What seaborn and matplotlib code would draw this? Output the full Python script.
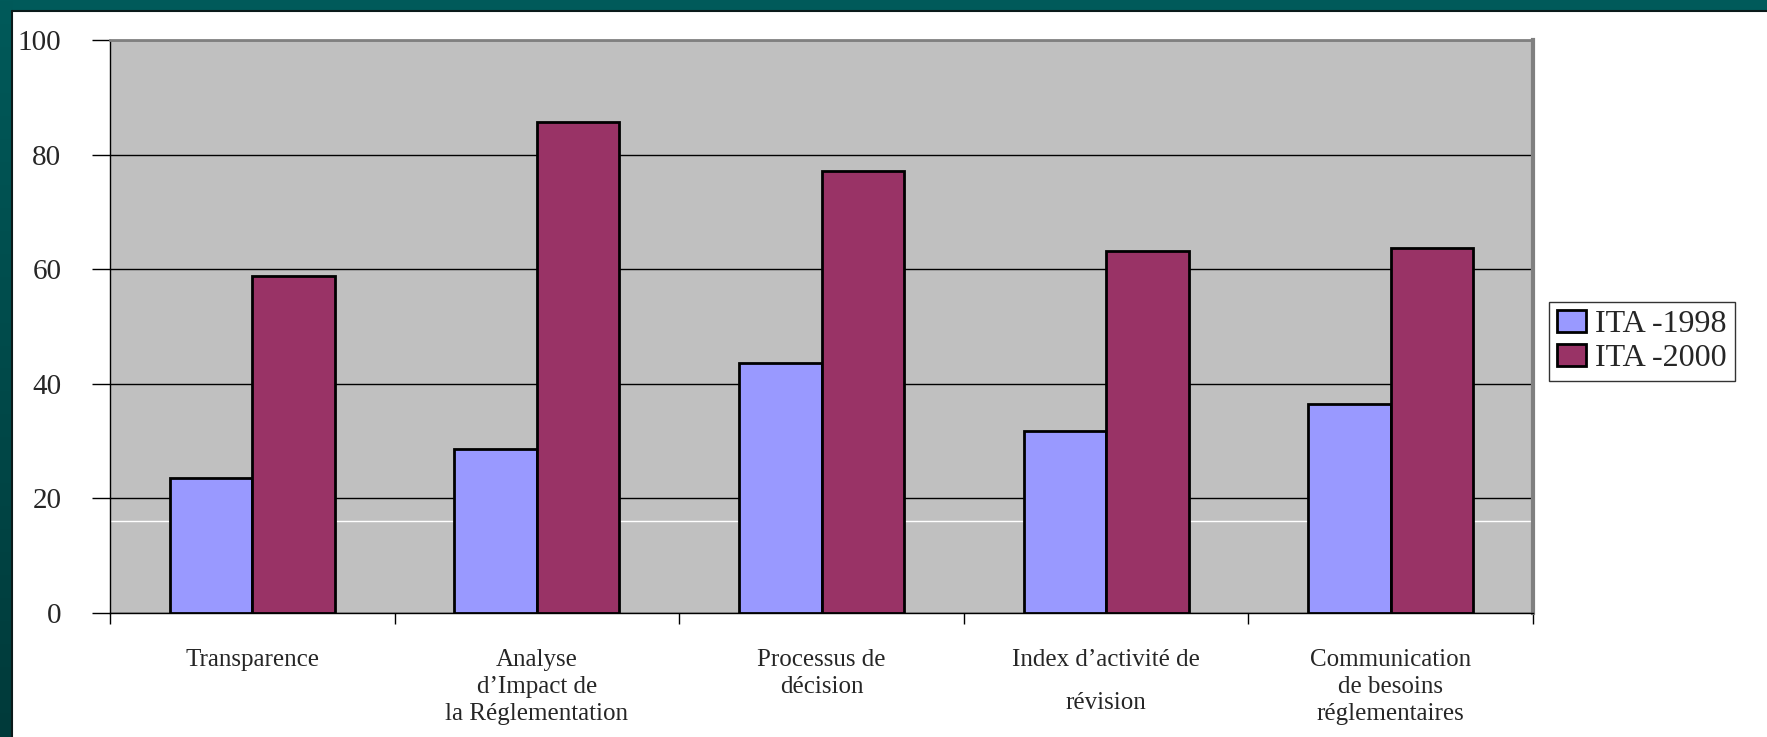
import matplotlib.pyplot as plt
import matplotlib.patches as mpatches
import numpy as np
import pandas as pd
import seaborn as sns

categories = ["Transparence",
              "Analyse\nd\u2019Impact de\nla R\u00e9glementation",
              "Processus de\nd\u00e9cision",
              "Index d\u2019activit\u00e9 de\nr\u00e9vision",
              "Communication\nde besoins\nr\u00e9glementaires"]
series = ["ITA -1998", "ITA -2000"]
ita_1998 = [23.5, 28.6, 43.7, 31.8, 36.5]
ita_2000 = [58.8, 85.7, 77.1, 63.1, 63.7]
colors = ["#9999ff", "#993366"]

df = pd.DataFrame({
    "cat": categories * 2,
    "serie": [series[0]] * 5 + [series[1]] * 5,
    "val": ita_1998 + ita_2000,
})

sns.set_style("white")
plt.rcParams['font.family'] = ['Liberation Serif', 'DejaVu Serif']

fig = plt.figure(figsize=(17.67, 7.37), dpi=100)
fig.patch.set_facecolor('white')
ax = fig.add_axes([110 / 1767, 1 - 613 / 737, (1533 - 110) / 1767, (613 - 40) / 737])
ax.set_facecolor('#c0c0c0')

sns.barplot(data=df, x="cat", y="val", hue="serie", palette=colors, saturation=1,
            width=0.58, edgecolor='black', linewidth=2, ax=ax, zorder=3)

ax.set_axisbelow(True)
ax.set_ylim(0, 100)
ax.set_xlim(-0.5, 4.5)
ax.set_yticks([0, 20, 40, 60, 80, 100])
ax.yaxis.grid(True, color='black', linewidth=1)
ax.axhline(16, color='white', linewidth=1, zorder=1)
ax.set_xlabel('')
ax.set_ylabel('')

ax.tick_params(axis='y', direction='out', length=13, width=1, color='black',
               left=True, labelsize=21, pad=22)
ax.set_xticks(np.arange(-0.5, 5, 1), minor=True)
ax.tick_params(axis='x', which='major', length=0, labelsize=18, pad=26)
ax.tick_params(axis='x', which='minor', direction='out', length=8, width=1,
               color='black', bottom=True)
for lab in ax.get_xticklabels():
    lab.set_linespacing(1.3)
ax.get_xticklabels()[3].set_linespacing(2.2)

for side in ['left', 'bottom']:
    ax.spines[side].set_color('black')
    ax.spines[side].set_linewidth(1)
ax.spines['top'].set_color('#808080')
ax.spines['top'].set_linewidth(2)
ax.spines['right'].set_color('#808080')
ax.spines['right'].set_linewidth(3)

handles = [mpatches.Patch(facecolor=c, edgecolor='black', linewidth=2) for c in colors]
leg = ax.legend(handles, series, loc='upper left',
                bbox_to_anchor=(1549 / 1767, 1 - 302 / 737),
                bbox_transform=fig.transFigure, fontsize=23, frameon=True,
                fancybox=False, handlelength=0.9, handleheight=0.7,
                handletextpad=0.3, borderpad=0.25, labelspacing=0.15,
                borderaxespad=0)
leg.get_frame().set_edgecolor('black')
leg.get_frame().set_linewidth(1)

# teal frame around slide
top = fig.add_axes([0, 1 - 11 / 737, 1, 11 / 737])
top.set_facecolor('#005a5a')
top.set_xticks([])
top.set_yticks([])
for s in top.spines.values():
    s.set_visible(False)
left = fig.add_axes([0, 0, 12 / 1767, 1])
grad = np.linspace(0, 1, 256).reshape(-1, 1)
cmap = sns.blend_palette(['#005a5a', '#003a3a'], as_cmap=True)
left.imshow(grad, aspect='auto', cmap=cmap)
left.set_xticks([])
left.set_yticks([])
for s in left.spines.values():
    s.set_visible(False)
fig.add_artist(plt.Line2D([12 / 1767, 1], [1 - 11 / 737, 1 - 11 / 737],
                          transform=fig.transFigure, color='#0a1a1a', linewidth=1.5))
fig.add_artist(plt.Line2D([12 / 1767, 12 / 1767], [0, 1 - 11 / 737],
                          transform=fig.transFigure, color='#0a1a1a', linewidth=1.5))

fig.savefig("out.png", dpi=100)
plt.close()
